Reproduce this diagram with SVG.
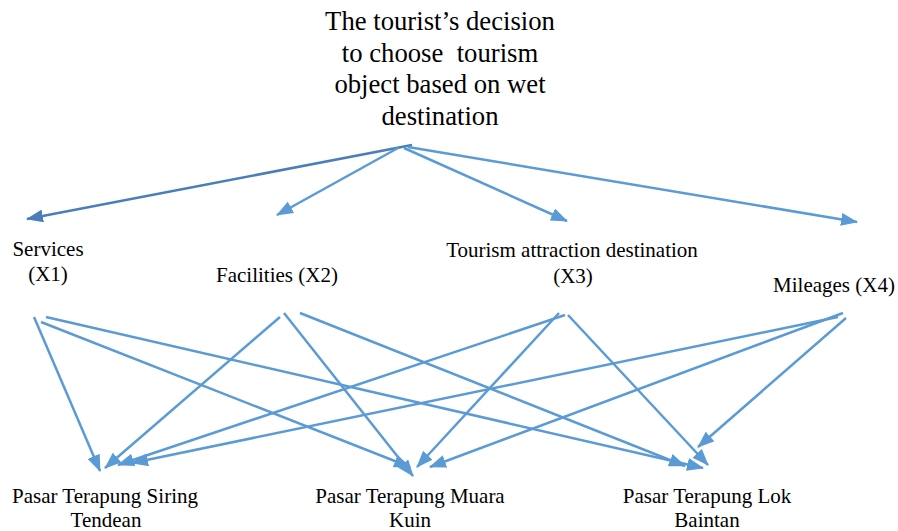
<svg xmlns="http://www.w3.org/2000/svg" width="898" height="531" viewBox="0 0 898 531">
<style>
text{font-family:"Liberation Serif","DejaVu Serif",serif;fill:#000;text-anchor:middle}
.t{font-size:26.7px}
.n{font-size:21px}
.c line{stroke:#5b9bd5;stroke-width:2.5;fill:none;marker-end:url(#ah)}
.c line.d{stroke:#4a7ebb;marker-end:url(#ahd)}
</style>
<defs>
<marker id="ah" markerUnits="userSpaceOnUse" markerWidth="17" markerHeight="13" refX="16" refY="6.5" orient="auto"><path d="M0,0 L17,6.5 L0,13 z" fill="#5b9bd5"/></marker>
<marker id="ahd" markerUnits="userSpaceOnUse" markerWidth="17" markerHeight="13" refX="16" refY="6.5" orient="auto"><path d="M0,0 L17,6.5 L0,13 z" fill="#4a7ebb"/></marker>
</defs>
<g id="decision" font-family="Liberation Serif, serif">
<text class="t" x="440" y="30">The tourist’s decision</text>
<text class="t" x="440" y="61.5" xml:space="preserve">to choose  tourism</text>
<text class="t" x="440" y="93">object based on wet</text>
<text class="t" x="440" y="124.5">destination</text>
</g>
<g id="x1"><text class="n" x="48" y="256">Services</text><text class="n" x="48" y="281">(X1)</text></g>
<g id="x2"><text class="n" x="277" y="282">Facilities (X2)</text></g>
<g id="x3"><text class="n" x="572" y="257">Tourism attraction destination</text><text class="n" x="573" y="283">(X3)</text></g>
<g id="x4"><text class="n" x="834" y="292">Mileages (X4)</text></g>
<g id="siring"><text class="n" x="105" y="503">Pasar Terapung Siring</text><text class="n" x="106" y="527">Tendean</text></g>
<g id="kuin"><text class="n" x="410" y="503">Pasar Terapung Muara</text><text class="n" x="410" y="527">Kuin</text></g>
<g id="lok"><text class="n" x="707" y="503">Pasar Terapung Lok</text><text class="n" x="707" y="527">Baintan</text></g>
<g class="c" id="connectors">
<line class="d" x1="412" y1="145" x2="27" y2="219"/>
<line x1="398" y1="148" x2="277" y2="215"/>
<line x1="404" y1="148" x2="567" y2="221"/>
<line x1="408" y1="147" x2="857" y2="222"/>
<line x1="34" y1="317" x2="100" y2="471"/>
<line x1="41" y1="322" x2="410" y2="467"/>
<line x1="46" y1="317" x2="703" y2="468"/>
<line x1="280" y1="317" x2="105" y2="468"/>
<line x1="284" y1="313" x2="413" y2="476"/>
<line x1="300" y1="313" x2="685" y2="466"/>
<line x1="565" y1="315" x2="118" y2="465"/>
<line x1="559" y1="313" x2="417" y2="467"/>
<line x1="568" y1="315" x2="708" y2="465"/>
<line x1="838" y1="317" x2="132" y2="463"/>
<line x1="843" y1="313" x2="430" y2="467"/>
<line x1="846" y1="318" x2="698" y2="447"/>
</g>
</svg>
